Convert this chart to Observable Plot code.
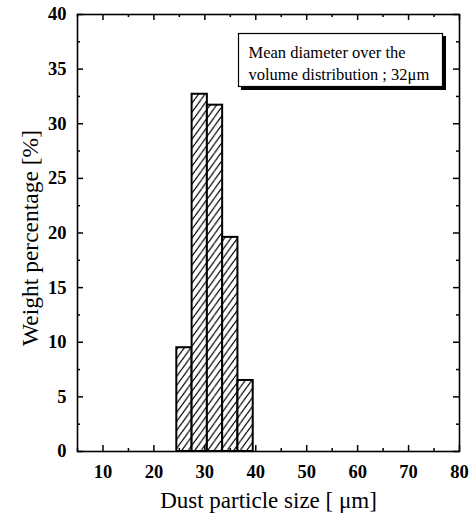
<!DOCTYPE html>
<html>
<head>
<meta charset="utf-8">
<script src="https://cdn.jsdelivr.net/npm/d3@7"></script>
<script src="https://cdn.jsdelivr.net/npm/@observablehq/plot@0.6"></script>
<style>
  html, body { margin: 0; padding: 0; background: white; }
</style>
</head>
<body>
<div id="chart"></div>
<script>
// Data
const binStart = [24.5, 27.5, 30.5, 33.5, 36.5];
const binEnd   = [27.5, 30.5, 33.5, 36.5, 39.5];
const weightPct = [9.5, 32.7, 31.7, 19.6, 6.5];

const xMajorTicks = [10, 20, 30, 40, 50, 60, 70, 80];
const xMinorTicks = [5, 15, 25, 35, 45, 55, 65, 75];
const yMajorTicks = [0, 5, 10, 15, 20, 25, 30, 35, 40];
const yMinorTicks = [2.5, 7.5, 12.5, 17.5, 22.5, 27.5, 32.5, 37.5];

const xTitle = "Dust particle size [ μm]";
const yTitle = "Weight percentage [%]";
const noteLines = ["Mean diameter over the", "volume distribution ; 32μm"];

const bars = binStart.map((s, i) => ({x1: s, x2: binEnd[i], y: weightPct[i]}));

const W = 472, H = 516;
const mL = 77, mR = 13, mT = 14, mB = 65;
const fw = W - mL - mR, fh = H - mT - mB;
const serif = "'Liberation Serif', 'Times New Roman', serif";

const chart = Plot.plot({
  width: W, height: H,
  marginLeft: mL, marginRight: mR, marginTop: mT, marginBottom: mB,
  x: {domain: [5, 80], axis: null},
  y: {domain: [0, 40], axis: null},
  style: {fontFamily: serif, background: "white", color: "black", overflow: "visible"},
  marks: [
    Plot.rectY(bars, {x1: "x1", x2: "x2", y: "y", fill: "url(#hatch)", stroke: "black", strokeWidth: 2}),
    Plot.frame({stroke: "black", strokeWidth: 1.6}),
    // inward ticks, bottom & top
    Plot.tickX(xMajorTicks, {x: d => d, insetTop: fh - 6, stroke: "black", strokeWidth: 1.5}),
    Plot.tickX(xMajorTicks, {x: d => d, insetBottom: fh - 6, stroke: "black", strokeWidth: 1.5}),
    Plot.tickX(xMinorTicks, {x: d => d, insetTop: fh - 3, stroke: "black", strokeWidth: 1.5}),
    Plot.tickX(xMinorTicks, {x: d => d, insetBottom: fh - 3, stroke: "black", strokeWidth: 1.5}),
    // inward ticks, left & right
    Plot.tickY(yMajorTicks, {y: d => d, insetRight: fw - 6, stroke: "black", strokeWidth: 1.5}),
    Plot.tickY(yMajorTicks, {y: d => d, insetLeft: fw - 6, stroke: "black", strokeWidth: 1.5}),
    Plot.tickY(yMinorTicks, {y: d => d, insetRight: fw - 3, stroke: "black", strokeWidth: 1.5}),
    Plot.tickY(yMinorTicks, {y: d => d, insetLeft: fw - 3, stroke: "black", strokeWidth: 1.5}),
    // tick labels
    Plot.text(xMajorTicks, {x: d => d, text: d => String(d), frameAnchor: "bottom", textAnchor: "middle", lineAnchor: "top", dy: 13, fontSize: 18.5, fontWeight: "bold", fill: "black"}),
    Plot.text(yMajorTicks, {y: d => d, text: d => String(d), frameAnchor: "left", textAnchor: "end", lineAnchor: "middle", dx: -11, fontSize: 18.5, fontWeight: "bold", fill: "black"}),
    // axis titles
    Plot.text([xTitle], {text: d => d, frameAnchor: "bottom", textAnchor: "middle", lineAnchor: "bottom", dy: 56, fontSize: 23, fill: "black"}),
    Plot.text([yTitle], {text: d => d, frameAnchor: "left", textAnchor: "middle", lineAnchor: "middle", rotate: -90, dx: -47, dy: 5, fontSize: 23.5, fill: "black"}),
    // annotation box (shadow, box, text)
    Plot.frame({fill: "black", stroke: "black", insetLeft: 164, insetRight: 14, insetTop: 22, insetBottom: fh - 75}),
    Plot.frame({fill: "white", stroke: "black", strokeWidth: 1.2, insetLeft: 161, insetRight: 17, insetTop: 19, insetBottom: fh - 72}),
    Plot.text([noteLines[0]], {text: d => d, frameAnchor: "top-left", textAnchor: "start", lineAnchor: "bottom", dx: 171, dy: 43, fontSize: 16.5, fill: "black"}),
    Plot.text([noteLines[1]], {text: d => d, frameAnchor: "top-left", textAnchor: "start", lineAnchor: "bottom", dx: 171, dy: 65, fontSize: 16.5, fill: "black"})
  ]
});

// hatch pattern
const svg = d3.select(chart.tagName.toLowerCase() === "svg" ? chart : chart.querySelector("svg"));
const defs = svg.insert("defs", ":first-child");
const pw = 6.5, ph = 9;
const pat = defs.append("pattern")
  .attr("id", "hatch")
  .attr("patternUnits", "userSpaceOnUse")
  .attr("width", pw).attr("height", ph);
pat.append("rect").attr("width", pw).attr("height", ph).attr("fill", "white");
pat.append("path")
  .attr("d", `M0,${ph} L${pw},0 M${-pw},${ph} L0,0 M${pw},${ph} L${2*pw},0`)
  .attr("stroke", "black").attr("stroke-width", 1.2).attr("fill", "none");

document.getElementById("chart").appendChild(chart);
</script>
</body>
</html>
